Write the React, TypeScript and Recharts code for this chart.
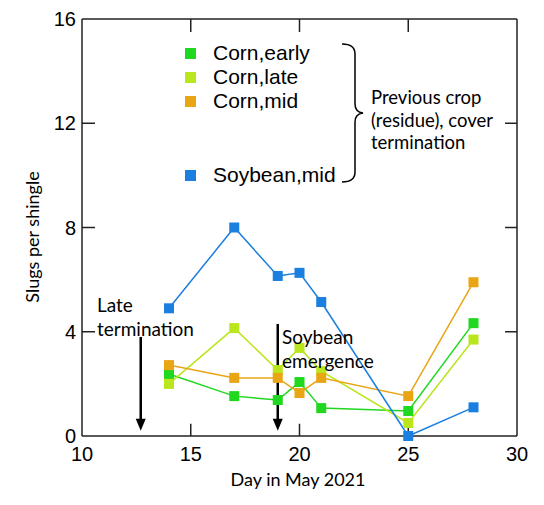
import { FC } from 'react'
import {
    LineChart,
    Line,
    XAxis,
    YAxis,
    Legend,
    ReferenceLine,
    ReferenceDot,
} from 'recharts'

const days = [14, 17, 19, 20, 21, 25, 28]
const cornEarly = [2.38, 1.53, 1.38, 2.07, 1.07, 0.96, 4.33]
const cornLate = [2.0, 4.14, 2.53, 3.38, 2.49, 0.5, 3.7]
const cornMid = [2.72, 2.23, 2.23, 1.65, 2.23, 1.53, 5.9]
const soybeanMid = [4.9, 8.0, 6.14, 6.26, 5.14, 0, 1.1]

const xTicks = [10, 15, 20, 25, 30]
const yTicks = [0, 4, 8, 12, 16]
const xInner = [15, 20, 25]
const yInner = [4, 8, 12]

// arrows: day, top of shaft, tip
const arrows = [
    { day: 12.7, top: 3.8, tip: 0.2 },
    { day: 19, top: 4.3, tip: 0.2 },
]

const series = [
    { key: 'cornEarly', name: 'Corn,early', color: '#1fd81f', values: cornEarly },
    { key: 'cornLate', name: 'Corn,late', color: '#b9e61c', values: cornLate },
    { key: 'cornMid', name: 'Corn,mid', color: '#e9a514', values: cornMid },
    { key: 'soybeanMid', name: 'Soybean,mid', color: '#1b7fe0', values: soybeanMid },
]

const data = days.map((day, i) => {
    const row: Record<string, number> = { day }
    series.forEach((s) => (row[s.key] = s.values[i]))
    return row
})

const tickFont = { fontSize: 20, fill: '#000', fontFamily: 'Liberation Sans' }
const calibri = { fontFamily: 'Lato', fontSize: 19, color: '#000', position: 'absolute' as const }
const frame = { stroke: '#222', strokeWidth: 1.5 }

const LegendBox = ({ payload }: any) => (
    <div style={{ fontFamily: 'Liberation Sans', fontSize: 21, color: '#000' }}>
        {payload.map((p: any) => (
            <div
                key={p.value}
                style={{
                    display: 'flex',
                    alignItems: 'center',
                    height: 24,
                    marginTop: p.value === 'Soybean,mid' ? 50 : 0,
                }}
            >
                <span style={{ width: 11, height: 11, background: p.color, marginRight: 17 }} />
                {p.value}
            </div>
        ))}
    </div>
)

const App: FC = () => {
    return (
        <div style={{ position: 'absolute', left: 0, top: 0, width: 544, height: 505 }}>
            <LineChart
                width={544}
                height={505}
                data={data}
                margin={{ top: 19, right: 27, left: 22, bottom: 39 }}
            >
                <XAxis
                    dataKey="day"
                    type="number"
                    domain={[10, 30]}
                    ticks={xTicks}
                    tickLine={false}
                    tickSize={0}
                    tickMargin={11}
                    height={30}
                    axisLine={frame}
                    tick={tickFont}
                />
                <YAxis
                    type="number"
                    domain={[0, 16]}
                    ticks={yTicks}
                    tickLine={false}
                    tickSize={0}
                    tickMargin={6}
                    width={60}
                    axisLine={frame}
                    tick={tickFont}
                />
                {/* top and right edges of the box */}
                <ReferenceLine y={16} {...frame} />
                <ReferenceLine x={30} {...frame} />
                {/* inner ticks on all four sides */}
                {xInner.map((t) => (
                    <ReferenceLine key={'b' + t} segment={[{ x: t, y: 0 }, { x: t, y: 0.47 }]} {...frame} />
                ))}
                {xInner.map((t) => (
                    <ReferenceLine key={'t' + t} segment={[{ x: t, y: 16 }, { x: t, y: 15.5 }]} {...frame} />
                ))}
                {yInner.map((t) => (
                    <ReferenceLine key={'l' + t} segment={[{ x: 10, y: t }, { x: 10.6, y: t }]} {...frame} />
                ))}
                {yInner.map((t) => (
                    <ReferenceLine key={'r' + t} segment={[{ x: 30, y: t }, { x: 29.45, y: t }]} {...frame} />
                ))}
                {arrows.map((a, i) => (
                    <ReferenceLine
                        key={'shaft' + i}
                        segment={[
                            { x: a.day, y: a.top },
                            { x: a.day, y: a.tip + 0.35 },
                        ]}
                        stroke="#000"
                        strokeWidth={2.5}
                    />
                ))}
                {arrows.map((a, i) => (
                    <ReferenceDot
                        key={'head' + i}
                        x={a.day}
                        y={a.tip}
                        shape={(p: any) => (
                            <polygon
                                points={`${p.cx},${p.cy} ${p.cx - 5},${p.cy - 12} ${p.cx + 5},${p.cy - 12}`}
                                fill="#000"
                            />
                        )}
                    />
                ))}
                {series.map((s) => (
                    <Line
                        key={s.key}
                        dataKey={s.key}
                        name={s.name}
                        stroke={s.color}
                        strokeWidth={1.5}
                        isAnimationActive={false}
                        dot={(p: any) => (
                            <rect
                                key={s.key + p.index}
                                x={p.cx - 5}
                                y={p.cy - 5}
                                width={10}
                                height={10}
                                fill={s.color}
                            />
                        )}
                    />
                ))}
                <Legend
                    layout="vertical"
                    align="center"
                    verticalAlign="middle"
                    content={LegendBox}
                    wrapperStyle={{ top: 41, left: 185, width: 160 }}
                />
            </LineChart>

            <svg
                width={544}
                height={505}
                style={{ position: 'absolute', left: 0, top: 0, pointerEvents: 'none' }}
            >
                <path
                    d="M342,44 Q355,44 355,54 L355,104 Q355,112 363,113 Q355,114 355,122 L355,172 Q355,182 342,182"
                    fill="none"
                    stroke="#000"
                    strokeWidth={1.5}
                />
            </svg>
            <div style={{ ...calibri, fontSize: 18.5, left: 371, top: 86, lineHeight: '22.5px' }}>
                Previous crop
                <br />
                (residue), cover
                <br />
                termination
            </div>
            <div style={{ ...calibri, left: 97, top: 293, lineHeight: '24px' }}>
                Late
                <br />
                termination
            </div>
            <div style={{ ...calibri, left: 282, top: 325, lineHeight: '24px' }}>
                Soybean
                <br />
                emergence
            </div>
            <div
                style={{
                    ...calibri,
                    fontSize: 18,
                    left: 198,
                    width: 200,
                    top: 467,
                    lineHeight: '24px',
                    textAlign: 'center',
                }}
            >
                Day in May 2021
            </div>
            <div
                style={{
                    ...calibri,
                    fontSize: 18,
                    left: -68,
                    width: 200,
                    top: 225,
                    lineHeight: '24px',
                    textAlign: 'center',
                    transform: 'rotate(-90deg)',
                }}
            >
                Slugs per shingle
            </div>
        </div>
    )
}

export default App
